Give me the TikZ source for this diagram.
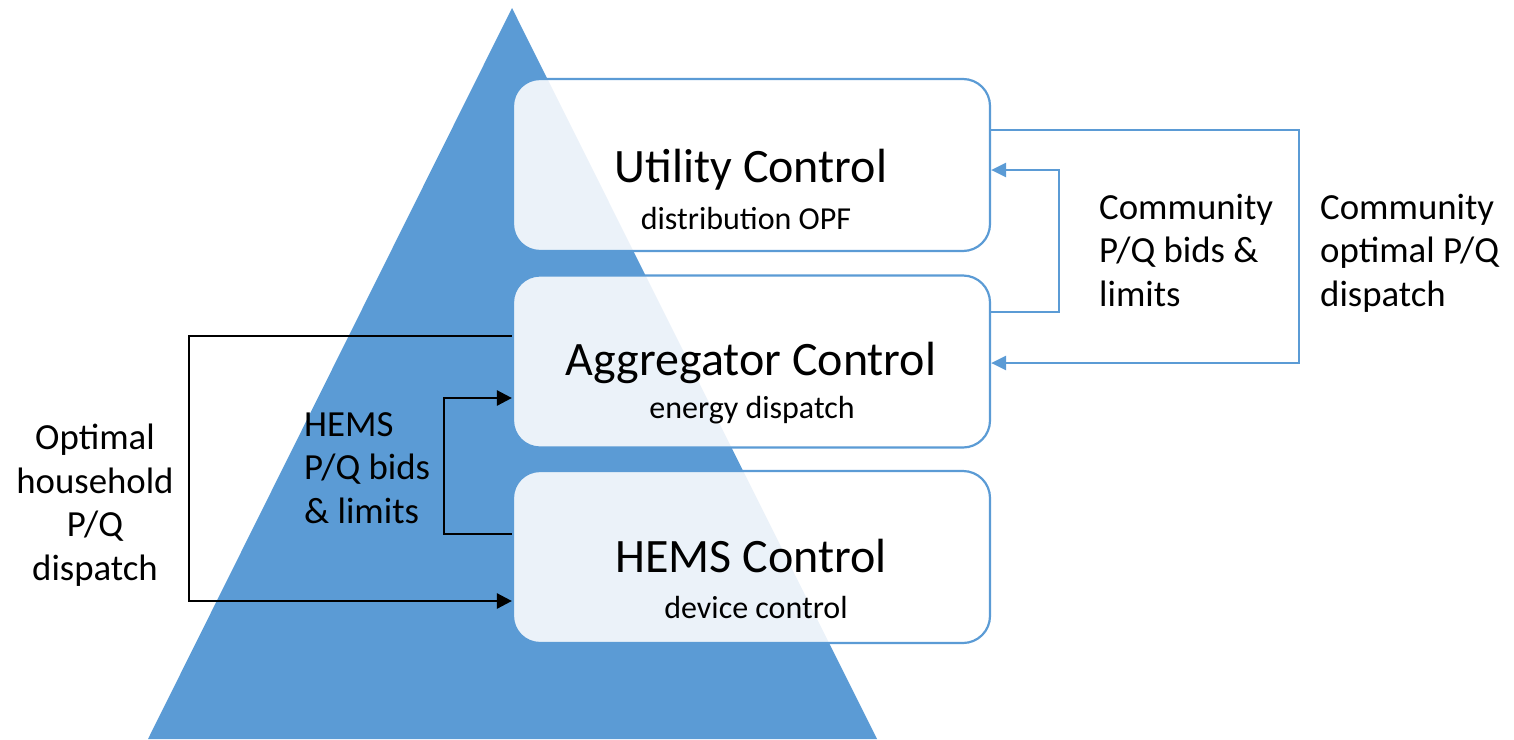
\documentclass[tikz,border=0pt]{standalone}
\usepackage{fontspec}
\setmainfont{Carlito}
\usetikzlibrary{arrows.meta}
\definecolor{pyr}{HTML}{5B9BD5}
\begin{document}
\begin{tikzpicture}[x=1pt,y=-1pt,
  level/.style={draw=pyr, line width=2.2pt, fill=white, fill opacity=0.88,
    rounded corners=27pt, minimum width=477pt, minimum height=172pt, inner sep=0pt},
  title/.style={anchor=base, font=\fontsize{48}{58}\selectfont, inner sep=0pt},
  sub/.style={anchor=base, font=\fontsize{32}{38}\selectfont, inner sep=0pt},
  lbl/.style={font=\fontsize{36.8}{43.5}\selectfont, inner sep=0pt},
  upflow/.style={draw=pyr, line width=2.4pt, -{Triangle[length=15pt,width=14pt]}},
  downflow/.style={draw=black, line width=2.6pt, -{Triangle[length=15pt,width=15pt]}},
]
\useasboundingbox (0,0) rectangle (1514,739);

% pyramid in the background
\fill[pyr] (512,8) -- (148,739) -- (877,739) -- cycle;

% control levels
\node[level] (util) at (751.5,165) {};
\node[level] (agg)  at (751.5,361.5) {};
\node[level] (hems) at (751.5,557) {};

\node[title] (utilT) at (751,182) {Utility Control};
\node[sub]   (utilS) at (746,229) {distribution OPF};
\node[title] (aggT)  at (751,375) {Aggregator Control};
\node[sub]   (aggS)  at (752,418) {energy dispatch};
\node[title] (hemsT) at (751,572) {HEMS Control};
\node[sub]   (hemsS) at (756,618) {device control};

% bend points of the connectors
\coordinate (rOuter) at (1299,130);
\coordinate (rInner) at (1059,312);
\coordinate (lOuter) at (189,336);
\coordinate (lInner) at (444,534);

% utility <-> aggregator
\draw[upflow] (util.east |- rOuter) -- (rOuter) |- (agg.east |- 0,363);
\draw[upflow] (agg.east |- rInner) -- (rInner) |- (util.east |- 0,170);

% aggregator <-> HEMS
\draw[downflow] (agg.west |- lOuter) -- (lOuter) |- (hems.west |- 0,601);
\draw[downflow] (hems.west |- lInner) -- (lInner) |- (agg.west |- 0,398);

% flow labels (base anchor sits on the last line)
\node[lbl, align=left, anchor=base west] (commBids) at (1099,306)
  {Community\\P/Q bids \&\\limits};
\node[lbl, align=left, anchor=base west] (commDisp) at (1320,306)
  {Community\\optimal P/Q\\dispatch};
\node[lbl, align=center, anchor=base] (house) at (95,580)
  {Optimal\\household\\P/Q\\dispatch};
\node[lbl, align=left, anchor=base west] (hemsBids) at (304,523)
  {HEMS\\P/Q bids\\\& limits};
\end{tikzpicture}
\end{document}
